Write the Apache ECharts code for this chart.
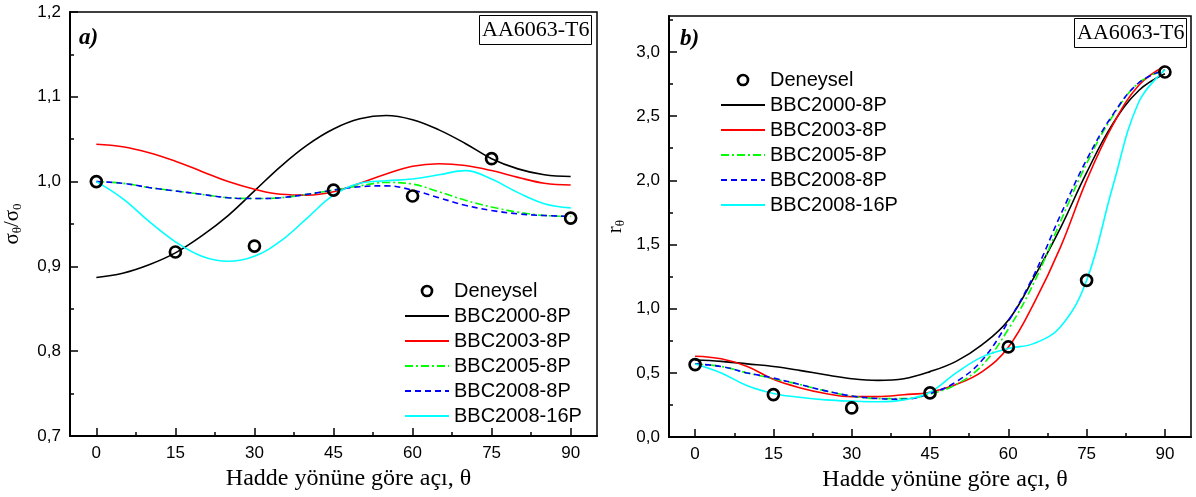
<!DOCTYPE html>
<html><head><meta charset="utf-8">
<script src="https://cdn.jsdelivr.net/npm/echarts@6/dist/echarts.min.js"></script>
<style>html,body{margin:0;padding:0;background:#fff}#c{width:1196px;height:497px}</style>
</head><body><div id="c"></div>
<script>
// ---- data ----
const angles = [0,5,10,15,20,25,30,35,40,45,50,55,60,65,70,75,80,85,90];
const expAngles = [0,15,30,45,60,75,90];
const xTicks = [0,15,30,45,60,75,90];
const xMinorTicks = [7.5,22.5,37.5,52.5,67.5,82.5];
const sigTicks = [0.7,0.8,0.9,1.0,1.1,1.2];
const sigMinorTicks = [0.75,0.85,0.95,1.05,1.15];
const rTicks = [0,0.5,1.0,1.5,2.0,2.5,3.0];
const rMinorTicks = [0.25,0.75,1.25,1.75,2.25,2.75,3.25];
const names = ['Deneysel','BBC2000-8P','BBC2003-8P','BBC2005-8P','BBC2008-8P','BBC2008-16P'];

// panel a) normalized yield stress
const sigExp  = [1.000,0.917,0.924,0.990,0.983,1.027,0.957];
const sig2000 = [0.887,0.892,0.902,0.916,0.936,0.960,0.989,1.018,1.043,1.062,1.074,1.078,1.073,1.061,1.045,1.027,1.015,1.008,1.006];
const sig2003 = [1.044,1.041,1.034,1.024,1.012,1.000,0.991,0.985,0.984,0.988,0.998,1.009,1.018,1.021,1.019,1.013,1.005,0.998,0.996];
const sig2005 = [1.000,0.998,0.993,0.989,0.985,0.981,0.980,0.981,0.985,0.990,0.995,0.999,0.997,0.988,0.978,0.970,0.964,0.960,0.959];
const sig2008 = [1.000,0.998,0.993,0.989,0.985,0.981,0.980,0.981,0.985,0.990,0.994,0.995,0.990,0.981,0.972,0.966,0.962,0.960,0.959];
const sig2008_16 = [1.000,0.980,0.953,0.929,0.912,0.906,0.912,0.930,0.957,0.984,0.998,1.001,1.003,1.008,1.013,1.003,0.987,0.974,0.969];

// panel b) r-values
const rExp  = [0.565,0.331,0.227,0.344,0.702,1.221,2.844];
const r2000 = [0.60,0.59,0.57,0.55,0.52,0.485,0.455,0.442,0.455,0.51,0.59,0.72,0.91,1.25,1.63,2.06,2.44,2.70,2.83];
const r2003 = [0.63,0.61,0.55,0.45,0.385,0.34,0.315,0.315,0.33,0.35,0.41,0.51,0.70,1.05,1.48,2.00,2.43,2.74,2.89];
const r2005 = [0.57,0.55,0.50,0.455,0.41,0.36,0.32,0.30,0.30,0.335,0.41,0.56,0.84,1.21,1.68,2.13,2.50,2.76,2.86];
const r2008 = [0.57,0.55,0.50,0.46,0.41,0.36,0.32,0.30,0.295,0.34,0.43,0.60,0.90,1.27,1.73,2.16,2.51,2.76,2.86];
const r2008_16 = [0.57,0.50,0.40,0.34,0.31,0.29,0.28,0.275,0.29,0.35,0.50,0.625,0.69,0.73,0.86,1.22,1.95,2.61,2.86];

// ---- styles ----
const SANS = 'Liberation Sans';
const SERIF = 'Liberation Serif';
const lineDefs = [
  {color:'#000000', type:'solid'},
  {color:'#ff0000', type:'solid'},
  {color:'#00ff00', type:[8,3,2,3]},
  {color:'#0000ff', type:[6,4]},
  {color:'#00ffff', type:'solid'}
];
const comma = v => (Math.round(v*10)/10).toFixed(1).replace('.', ',');

function mainX(grid){
  return {type:'value', gridIndex:grid, min:-5, max:95, position:'bottom',
    name:'Hadde yönüne göre açı, θ', nameLocation:'middle', nameGap:26,
    nameTextStyle:{fontFamily:SERIF, fontSize:24, color:'#000', padding:[0,0,0,30]},
    axisLine:{show:true, onZero:false, lineStyle:{color:'#000', width:2}},
    axisTick:{show:true, inside:true, length:8, customValues:xTicks, lineStyle:{color:'#000', width:1.5}},
    axisLabel:{show:true, customValues:xTicks, margin:9, fontFamily:SANS, fontSize:17, color:'#000'},
    splitLine:{show:false}};
}
function minorX(grid){
  return {type:'value', gridIndex:grid, min:-5, max:95, position:'bottom', offset:0,
    axisLine:{show:false, onZero:false},
    axisTick:{show:true, inside:true, length:4, customValues:xMinorTicks, lineStyle:{color:'#000', width:1.5}},
    axisLabel:{show:false}, splitLine:{show:false}};
}
function mainY(grid, min, max, ticks, name, gap){
  return {type:'value', gridIndex:grid, min:min, max:max, position:'left',
    name:name, nameLocation:'middle', nameGap:gap, nameRotate:90,
    nameTextStyle:{fontFamily:SERIF, fontSize:21, color:'#000',
      rich:{a:{fontFamily:SERIF, fontSize:21, color:'#000', lineHeight:24, verticalAlign:'middle'},
            b:{fontFamily:SERIF, fontSize:13, color:'#000', lineHeight:24, verticalAlign:'bottom'}}},
    axisLine:{show:true, onZero:false, lineStyle:{color:'#000', width:2}},
    axisTick:{show:true, inside:true, length:8, customValues:ticks, lineStyle:{color:'#000', width:1.5}},
    axisLabel:{show:true, customValues:ticks, margin:9, fontFamily:SANS, fontSize:17, color:'#000', formatter:comma},
    splitLine:{show:false}};
}
function minorY(grid, min, max, ticks){
  return {type:'value', gridIndex:grid, min:min, max:max, position:'left', offset:0,
    axisLine:{show:false, onZero:false},
    axisTick:{show:true, inside:true, length:4, customValues:ticks, lineStyle:{color:'#000', width:1.5}},
    axisLabel:{show:false}, splitLine:{show:false}};
}
function buildSeries(xi, yi, exp, curves){
  const out = [{
    name:names[0], type:'scatter', xAxisIndex:xi, yAxisIndex:yi, z:10,
    symbol:'circle', symbolSize:11,
    itemStyle:{color:'rgba(255,255,255,0)', borderColor:'#000', borderWidth:2.7, opacity:1},
    data: expAngles.map((a,i)=>[a, exp[i]])
  }];
  curves.forEach((c,k)=>{
    out.push({name:names[k+1], type:'line', xAxisIndex:xi, yAxisIndex:yi, smooth:0.4,
      symbol:'none', showSymbol:false, z:5+k*0.1,
      lineStyle:{color:lineDefs[k].color, type:lineDefs[k].type, width:1.6},
      itemStyle:{color:lineDefs[k].color},
      data: angles.map((a,i)=>[a, c[i]])});
  });
  return out;
}
function legend(left, top){
  const data = names.map((n,i)=> i===0
    ? {name:n, itemStyle:{color:'rgba(255,255,255,0)', borderColor:'#000', borderWidth:2.7, opacity:1}}
    : {name:n, itemStyle:{opacity:0}});
  return {orient:'vertical', left:left, top:top, itemWidth:44, itemHeight:10, itemGap:5,
    padding:0, data:data, selectedMode:false,
    textStyle:{fontFamily:SANS, fontSize:20, color:'#000', lineHeight:19}};
}
function box(text, left, top){
  return {text:text, left:left, top:top, padding:[3,2,2,3], borderColor:'#000', borderWidth:1,
    textStyle:{fontFamily:SERIF, fontSize:22, fontWeight:'normal', color:'#000', lineHeight:25}};
}
function tag(text, left, top){
  return {text:text, left:left, top:top, padding:0,
    textStyle:{fontFamily:SERIF, fontSize:23, fontWeight:'bold', fontStyle:'italic', color:'#000'}};
}

const chart = echarts.init(document.getElementById('c'), null, {renderer:'canvas'});
chart.setOption({
  animation:false,
  backgroundColor:'#fff',
  title:[box('AA6063-T6', 479, 15), box('AA6063-T6', 1074, 18), tag('a)', 79, 27), tag('b)', 680, 28)],
  grid:[
    {left:70, top:12, width:527, height:424, show:true, borderColor:'#000', borderWidth:1.5, backgroundColor:'transparent'},
    {left:669, top:16, width:522, height:421.5, show:true, borderColor:'#000', borderWidth:1.5, backgroundColor:'transparent'}
  ],
  xAxis:[mainX(0), minorX(0), mainX(1), minorX(1)],
  yAxis:[
    mainY(0, 0.7, 1.2, sigTicks, '{a|σ}{b|θ}{a|/σ}{b|0}', 46),
    minorY(0, 0.7, 1.2, sigMinorTicks),
    mainY(1, 0, 3.28, rTicks, '{a|r}{b|θ}', 42),
    minorY(1, 0, 3.28, rMinorTicks)
  ],
  legend:[legend(404, 281), legend(720, 70)],
  series:[
    ...buildSeries(0, 0, sigExp, [sig2000, sig2003, sig2005, sig2008, sig2008_16]),
    ...buildSeries(2, 2, rExp, [r2000, r2003, r2005, r2008, r2008_16])
  ]
});
</script></body></html>
